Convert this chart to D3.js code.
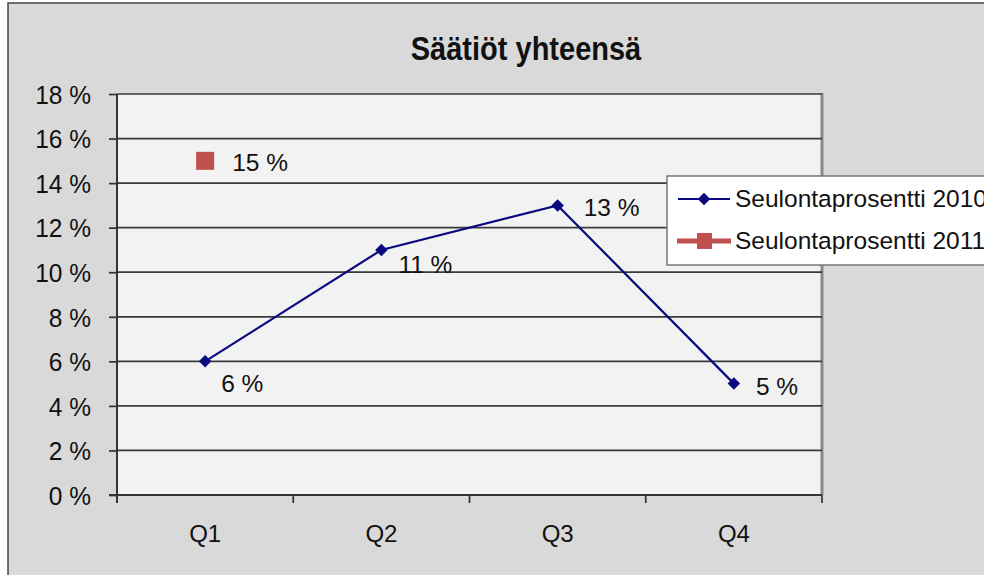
<!DOCTYPE html>
<html><head><meta charset="utf-8">
<script src="https://cdn.jsdelivr.net/npm/d3@7/dist/d3.min.js"></script>
<style>body{margin:0;background:#fff;}svg{display:block;}text{font-family:"Liberation Sans",Arial,sans-serif;fill:#111;}</style>
</head><body>
<svg id="c" width="984" height="575"></svg>
<script>
const title = "Säätiöt yhteensä";
const categories = ["Q1","Q2","Q3","Q4"];
const series2010 = [0.06, 0.11, 0.13, 0.05];
const series2011 = [0.15, null, null, null];
const seriesNames = ["Seulontaprosentti 2010","Seulontaprosentti 2011"];
const yTicks = [0,0.02,0.04,0.06,0.08,0.10,0.12,0.14,0.16,0.18];

const svg = d3.select("#c");
const W = 984, H = 575;
const plot = {l:117, r:822, t:94, b:495};

// chart area
svg.append("rect").attr("x",8).attr("y",3).attr("width",W).attr("height",H).attr("fill","#d9d9d9")
  .attr("stroke","#444").attr("stroke-width",1.5);

const x = d3.scaleBand().domain(categories).range([plot.l, plot.r]).padding(0);
const y = d3.scaleLinear().domain([0,0.18]).range([plot.b, plot.t]);
const fmt = v => Math.round(v*100) + " %";

svg.append("rect").attr("x",plot.l).attr("y",plot.t).attr("width",plot.r-plot.l).attr("height",plot.b-plot.t)
  .attr("fill","#f2f2f2");
svg.append("line").attr("x1",plot.r).attr("x2",plot.r).attr("y1",plot.t-1).attr("y2",plot.b)
  .attr("stroke","#8a8a8a").attr("stroke-width",3);

// gridlines
svg.append("g").selectAll("line").data(yTicks.filter(d=>d>0)).join("line")
  .attr("x1",plot.l).attr("x2",plot.r).attr("y1",d=>y(d)).attr("y2",d=>y(d))
  .attr("stroke","#3a3a3a").attr("stroke-width",1.7);

// y axis
const yAxis = d3.axisLeft(y).tickValues(yTicks).tickFormat(fmt).tickSize(8).tickPadding(18);
const gy = svg.append("g").attr("transform",`translate(${plot.l},0)`).call(yAxis);
gy.select(".domain").attr("stroke","#333").attr("stroke-width",2).attr("d",`M0,${plot.t}V${plot.b+8}`);
gy.selectAll(".tick line").attr("stroke","#333").attr("stroke-width",1.7);
gy.selectAll(".tick text").style("font-size","24.5px").style("font-family","Liberation Sans, Arial, sans-serif")
  .attr("fill","#111").attr("dy","0.36em").attr("transform","scale(1,1.05)");

// x axis
const xAxis = d3.axisBottom(x).tickSize(0).tickPadding(30);
const gx = svg.append("g").attr("transform",`translate(0,${plot.b})`).call(xAxis);
gx.select(".domain").attr("stroke","#333").attr("stroke-width",2).attr("d",`M${plot.l-8},0H${plot.r}`);
gx.selectAll(".tick text").style("font-size","24px").style("font-family","Liberation Sans, Arial, sans-serif").attr("fill","#111");
const bounds = categories.map(c=>x(c)).concat([x(categories[categories.length-1])+x.bandwidth()]);
gx.append("g").selectAll("line").data(bounds.slice(1)).join("line")
  .attr("x1",d=>d).attr("x2",d=>d).attr("y1",0).attr("y2",8).attr("stroke","#333").attr("stroke-width",1.7);

const cx = c => x(c) + x.bandwidth()/2;
const navy = "#0a0a80", red = "#c0504d";

// 2010 line
const pts = categories.map((c,i)=>({c, v:series2010[i]})).filter(d=>d.v!=null);
svg.append("path").datum(pts).attr("fill","none").attr("stroke",navy).attr("stroke-width",2.2)
  .attr("d", d3.line().x(d=>cx(d.c)).y(d=>y(d.v)));
const diamond = d3.symbol().type(d3.symbolDiamond2).size(100);
svg.append("g").selectAll("path").data(pts).join("path")
  .attr("transform",d=>`translate(${cx(d.c)},${y(d.v)})`).attr("d",diamond).attr("fill",navy);

// labels 2010 (offset per point)
const labelOffsets = [[16,31],[17,23],[26,11],[22,11]];
svg.append("g").selectAll("text").data(pts).join("text")
  .attr("x",(d,i)=>cx(d.c)+labelOffsets[i][0]).attr("y",(d,i)=>y(d.v)+labelOffsets[i][1])
  .style("font-size","24.5px").text(d=>fmt(d.v));

// 2011 points
const pts2 = categories.map((c,i)=>({c, v:series2011[i]})).filter(d=>d.v!=null);
svg.append("g").selectAll("rect").data(pts2).join("rect")
  .attr("x",d=>cx(d.c)-9).attr("y",d=>y(d.v)-9).attr("width",18).attr("height",18).attr("fill",red);
svg.append("g").selectAll("text").data(pts2).join("text")
  .attr("x",d=>cx(d.c)+27).attr("y",d=>y(d.v)+10)
  .style("font-size","24.5px").text(d=>fmt(d.v));

// title
svg.append("text").attr("transform","translate(526,60) scale(1,1.15)").attr("text-anchor","middle")
  .style("font-size","29px").style("font-weight","bold").text(title);

// legend
const lg = svg.append("g");
lg.append("rect").attr("x",667).attr("y",176).attr("width",340).attr("height",89)
  .attr("fill","#fff").attr("stroke","#777").attr("stroke-width",1.5);
const ly = [199, 241];
lg.append("line").attr("x1",678).attr("x2",730).attr("y1",ly[0]).attr("y2",ly[0]).attr("stroke",navy).attr("stroke-width",2.2);
lg.append("path").attr("transform",`translate(704,${ly[0]})`).attr("d",diamond).attr("fill",navy);
lg.append("line").attr("x1",677).attr("x2",731).attr("y1",ly[1]).attr("y2",ly[1]).attr("stroke",red).attr("stroke-width",5);
lg.append("rect").attr("x",697).attr("y",ly[1]-8).attr("width",15).attr("height",16).attr("fill",red);
lg.selectAll("text.l").data(seriesNames).join("text").attr("class","l")
  .attr("x",735).attr("y",(d,i)=>ly[i]+8).style("font-size","24.5px").text(d=>d);
</script>
</body></html>
